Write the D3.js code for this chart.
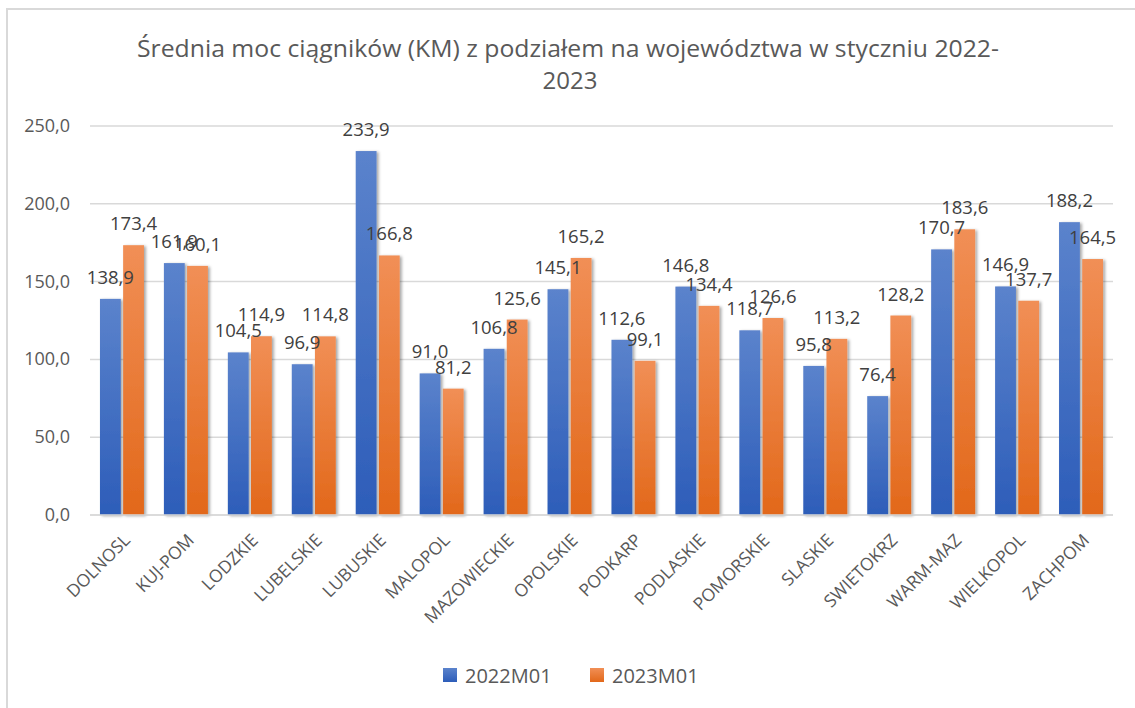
<!DOCTYPE html>
<html>
<head>
<meta charset="utf-8">
<title>Średnia moc ciągników</title>
<script src="https://cdn.jsdelivr.net/npm/d3@7"></script>
<style>
    body{ margin:0; background:#fff; }
    .title{ font-family:"Open Sans",sans-serif; font-size:24px; fill:#595959; }
    .tick-label{ font-family:"Open Sans",sans-serif; font-size:18px; fill:#595959; }
    .cat-label{ font-family:"Open Sans",sans-serif; font-size:17.5px; fill:#595959; }
    .value-label{ font-family:"Open Sans",sans-serif; font-size:18.5px; fill:#404040; }
    .legend-label{ font-family:"Open Sans",sans-serif; font-size:20px; fill:#595959; }
    .grid{ stroke:#d9d9d9; stroke-width:1.5; }
</style>
</head>
<body>
<script>
// data
let categories = ["DOLNOSL","KUJ-POM","LODZKIE","LUBELSKIE","LUBUSKIE","MALOPOL","MAZOWIECKIE","OPOLSKIE",
                  "PODKARP","PODLASKIE","POMORSKIE","SLASKIE","SWIETOKRZ","WARM-MAZ","WIELKOPOL","ZACHPOM"]
let series = ["2022M01","2023M01"]
let values2022 = [138.9,161.9,104.5,96.9,233.9,91.0,106.8,145.1,112.6,146.8,118.7,95.8,76.4,170.7,146.9,188.2]
let values2023 = [173.4,160.1,114.9,114.8,166.8,81.2,125.6,165.2,99.1,134.4,126.6,113.2,128.2,183.6,137.7,164.5]
let yTicks = [0,50,100,150,200,250]

let w = 1135, h = 708
let plotLeft = 90, plotRight = 1113, plotTop = 126, plotBottom = 515

let svg = d3.select("body").append("svg")
            .attr("width", w).attr("height", h)

// gradients + shadow
let defs = svg.append("defs")
let grads = [["g2022","#5b83cc","#2d5db9"],["g2023","#f18f56","#e2681a"]]
for (let g of grads){
    let lg = defs.append("linearGradient").attr("id", g[0])
                 .attr("x1",0).attr("y1",0).attr("x2",0).attr("y2",1)
    lg.append("stop").attr("offset","0%").attr("stop-color", g[1])
    lg.append("stop").attr("offset","100%").attr("stop-color", g[2])
}
defs.append("filter").attr("id","shadow")
    .attr("x","-20%").attr("y","-5%").attr("width","150%").attr("height","115%")
    .append("feDropShadow")
    .attr("dx",2).attr("dy",1).attr("stdDeviation",1.6)
    .attr("flood-color","#000").attr("flood-opacity",0.35)

// frame
svg.append("rect")
   .attr("x",7).attr("y",9).attr("width",w+20).attr("height",h+20)
   .attr("fill","none").attr("stroke","#d9d9d9").attr("stroke-width",2)

// title
svg.append("text").attr("class","title")
   .attr("x",568).attr("y",57).attr("text-anchor","middle")
   .attr("textLength",862).attr("lengthAdjust","spacingAndGlyphs")
   .text("Średnia moc ciągników (KM) z podziałem na województwa w styczniu 2022-")
svg.append("text").attr("class","title")
   .attr("x",570).attr("y",89).attr("text-anchor","middle")
   .text("2023")

// scales
let x0 = d3.scaleBand().domain(categories).range([plotLeft,plotRight])
let bw = x0.bandwidth()
let x1 = d3.scaleBand().domain(series).range([bw/2-22, bw/2+22]).paddingInner(0.1)
let y = d3.scaleLinear().domain([0,250]).range([plotBottom,plotTop])
let fmt = v => d3.format(".1f")(v).replace(".",",")

// gridlines
for (let t of yTicks){
    svg.append("line").attr("class","grid")
       .attr("x1",plotLeft).attr("x2",plotRight)
       .attr("y1",y(t)).attr("y2",y(t))
    svg.append("text").attr("class","tick-label")
       .attr("x",70).attr("y",y(t)+6).attr("text-anchor","end")
       .text(fmt(t))
}

// bars
let rows = categories.map((c,i)=>({cat:c, vals:[values2022[i], values2023[i]]}))
let groups = svg.selectAll(".cat").data(rows).enter().append("g")
                .attr("transform", d=>"translate("+x0(d.cat)+",0)")
groups.selectAll("rect").data(d=>d.vals.map((v,j)=>({s:series[j], v:v, j:j})))
      .enter().append("rect")
      .attr("x", d=>x1(d.s)).attr("width", x1.bandwidth())
      .attr("y", d=>y(d.v)).attr("height", d=>plotBottom-y(d.v))
      .attr("fill", d=>"url(#g"+d.s.slice(0,4)+")")
      .attr("filter","url(#shadow)")

// redraw axis line over bars
svg.append("line").attr("class","grid")
   .attr("x1",plotLeft).attr("x2",plotRight).attr("y1",plotBottom).attr("y2",plotBottom)

// value labels (drawn after all bars)
for (let j of [0,1]){
    for (let r of rows){
        svg.append("text").attr("class","value-label")
           .attr("x", x0(r.cat)+x1(series[j])+x1.bandwidth()/2)
           .attr("y", y(r.vals[j])-15)
           .attr("text-anchor","middle")
           .text(fmt(r.vals[j]))
    }
}

// category labels
for (let c of categories){
    let cx = x0(c)+bw/2
    svg.append("text").attr("class","cat-label")
       .attr("transform","translate("+(cx+5)+","+(plotBottom+22)+") rotate(-45)")
       .attr("text-anchor","end")
       .attr("dy","0.35em")
       .text(c)
}

// legend
let legendX = [443, 590]
let fills = ["g2022","g2023"]
series.forEach((s,i)=>{
    svg.append("rect").attr("x",legendX[i]).attr("y",668)
       .attr("width",14).attr("height",14)
       .attr("fill","url(#"+fills[i]+")")
    svg.append("text").attr("class","legend-label")
       .attr("x",legendX[i]+22).attr("y",683)
       .text(s)
})
</script>
</body>
</html>
